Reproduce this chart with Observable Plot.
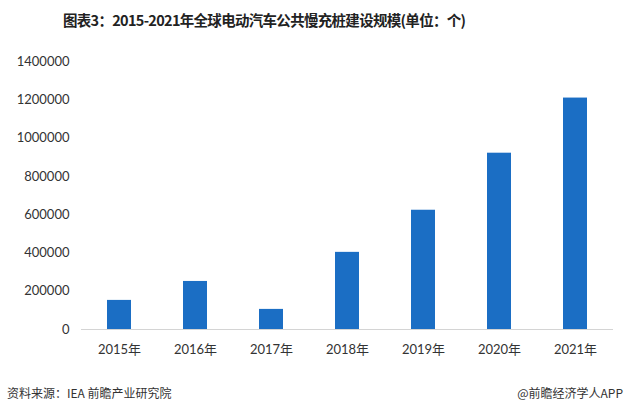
<!DOCTYPE html>
<html><head><meta charset="utf-8">
<script src="https://cdn.jsdelivr.net/npm/d3@7"></script>
<script src="https://cdn.jsdelivr.net/npm/@observablehq/plot@0.6"></script>
<style>
body{margin:0;background:#fff;width:633px;height:414px;overflow:hidden;font-family:Lato,"Noto Sans CJK SC",sans-serif;}
#title{height:42px;line-height:40px;text-align:left;padding-left:63px;font-family:"Noto Sans CJK SC",sans-serif;font-weight:bold;font-size:14.5px;letter-spacing:-0.7px;color:#222;box-sizing:border-box;}
#foot{position:relative;height:44px;font-family:"Noto Sans CJK SC",sans-serif;font-size:12px;color:#333;}
#foot .l{position:absolute;left:7px;top:14px;}
#foot .r{position:absolute;right:10px;top:14px;}
</style></head>
<body>
<div id="title">图表3：2015-2021年全球电动汽车公共慢充桩建设规模(单位：个)</div>
<div id="chart"></div>
<div id="foot"><span class="l">资料来源：IEA 前瞻产业研究院</span><span class="r">@前瞻经济学人APP</span></div>
<script>
const years = ["2015年","2016年","2017年","2018年","2019年","2020年","2021年"];
const values = [152000, 251000, 105000, 403000, 623000, 921000, 1209000];
const yTicks = [0,200000,400000,600000,800000,1000000,1200000,1400000];
const data = years.map((y,i)=>({year:y, value:values[i]}));
const chart = Plot.plot({
  width:633, height:328,
  marginLeft:81, marginRight:20, marginTop:19, marginBottom:41,
  style:{fontFamily:'Lato,"Noto Sans CJK SC",sans-serif', fontSize:"13px", color:"#333"},
  x:{domain:years, paddingInner:0.684, paddingOuter:0.342, label:null, tickSize:0, tickPadding:15},
  y:{domain:[0,1400000], ticks:yTicks, tickFormat:d3.format("d"), label:null, tickSize:0, tickPadding:12},
  marks:[
    Plot.barY(data,{x:"year", y:"value", fill:"#1b6ec4"}),
    Plot.ruleY([0],{stroke:"#d4d4d4"})
  ]
});
document.getElementById("chart").appendChild(chart);
</script>
</body></html>
